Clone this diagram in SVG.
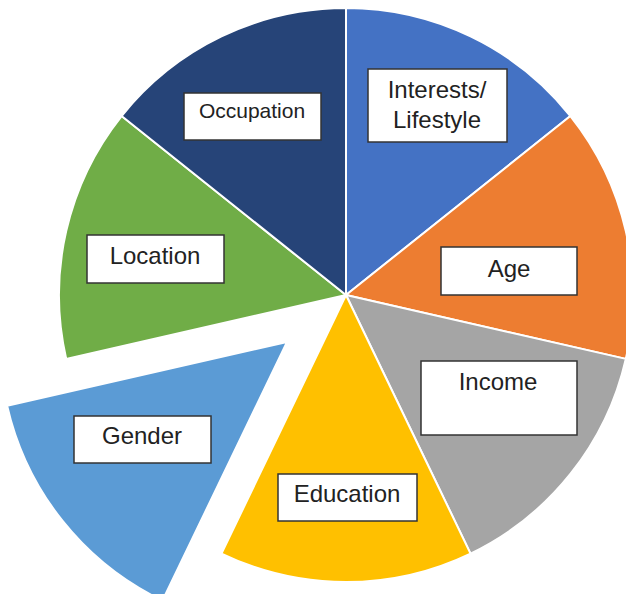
<svg xmlns="http://www.w3.org/2000/svg" width="626" height="594" viewBox="0 0 626 594">
<style>
.s{stroke:#fff;stroke-width:2;stroke-linejoin:round}
.b{fill:#fff;stroke:#333;stroke-width:1.5}
.t{font-family:"Liberation Sans",Arial,sans-serif;font-size:24px;fill:#222;text-anchor:middle}
</style>
<rect width="626" height="594" fill="#fff"/>
<g id="interests">
<path class="s" fill="#4472C4" d="M346,295 L346,8 A287,287 0 0 1 570.38,116.06 Z"/>
<rect class="b" x="368" y="69" width="139" height="73"/>
<text class="t" x="437" y="98">Interests/</text>
<text class="t" x="437" y="128">Lifestyle</text>
</g>
<g id="age">
<path class="s" fill="#ED7D31" d="M346,295 L570.38,116.06 A287,287 0 0 1 625.8,358.86 Z"/>
<rect class="b" x="441" y="247" width="136" height="48"/>
<text class="t" x="509" y="277">Age</text>
</g>
<g id="income">
<path class="s" fill="#A5A5A5" d="M346,295 L625.8,358.86 A287,287 0 0 1 470.52,553.58 Z"/>
<rect class="b" x="421" y="361" width="156" height="74"/>
<text class="t" x="498" y="390">Income</text>
</g>
<g id="education">
<path class="s" fill="#FFC000" d="M346,295 L470.52,553.58 A287,287 0 0 1 221.48,553.58 Z"/>
<rect class="b" x="278" y="474" width="139" height="47"/>
<text class="t" x="347" y="502">Education</text>
</g>
<g id="gender">
<path class="s" fill="#5B9BD5" d="M287,342 L162.48,600.58 A287,287 0 0 1 7.2,405.86 Z"/>
<rect class="b" x="74" y="416" width="137" height="47"/>
<text class="t" x="142" y="444">Gender</text>
</g>
<g id="location">
<path class="s" fill="#70AD47" d="M346,295 L66.2,358.86 A287,287 0 0 1 121.62,116.06 Z"/>
<rect class="b" x="87" y="235" width="137" height="48"/>
<text class="t" x="155" y="264">Location</text>
</g>
<g id="occupation">
<path class="s" fill="#264478" d="M346,295 L121.62,116.06 A287,287 0 0 1 346,8 Z"/>
<rect class="b" x="184" y="93" width="137" height="47"/>
<text class="t" x="252" y="118" style="font-size:21px">Occupation</text>
</g>
<g id="connectors"/>
</svg>
